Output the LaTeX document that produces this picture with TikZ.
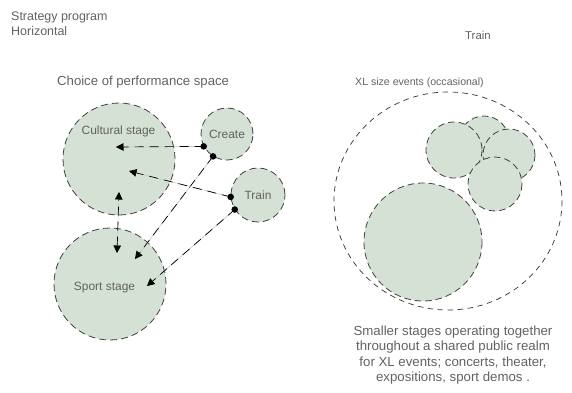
\documentclass[tikz,border=0pt]{standalone}
\usepackage{fontspec}
\setmainfont{Liberation Sans}
\usetikzlibrary{arrows.meta}

\definecolor{stagegreen}{RGB}{213,225,212}
\definecolor{linkgreen}{RGB}{186,206,186}
\definecolor{txtgray}{RGB}{98,98,98}

\begin{document}
\begin{tikzpicture}[x=1bp, y=-1bp,
  every node/.style={inner sep=0pt, text=txtgray, font=\fontsize{12}{14}\selectfont},
  hdr/.style={font=\fontsize{12.5}{14}\selectfont},
  stage/.style={circle, fill=stagegreen, draw=black!75, line width=0.8bp, dash pattern=on 7bp off 4bp},
  edge/.style={fill=stagegreen, draw=black!75, line width=0.8bp, dash pattern=on 6.5bp off 4bp},
  ring/.style={draw=black!80, line width=0.7bp, dash pattern=on 5.5bp off 4.5bp},
  link/.style={black, line width=0.7bp, dash pattern=on 9bp off 6bp,
    preaction={draw=linkgreen, solid, line width=0.6bp},
    -{Triangle[length=7.5bp, width=7.5bp]}},
  vlink/.style={link, {Triangle[length=7.5bp, width=7.5bp]}-{Triangle[length=7.5bp, width=7.5bp]}},
  dot/.style={black}]
  \useasboundingbox (0,0) rectangle (572,392);

  % headings
  \node[hdr, anchor=base west] (strat) at (11,20.5) {Strategy program};
  \node[hdr, anchor=base west] (horiz) at (11,35.5) {Horizontal};
  \node[anchor=base west, font=\fontsize{11.4}{13}\selectfont] (trainhdr) at (465,39) {Train};
  \node[anchor=base west, font=\fontsize{13.2}{15}\selectfont] (choice) at (57,85) {Choice of performance space};
  \node[anchor=base west, font=\fontsize{10.6}{13}\selectfont] (xlhdr) at (355,85) {XL size events (occasional)};

  % left: performance spaces
  \node[stage, minimum size=112bp] (cult) at (119,159) {};
  \node[anchor=base] (cultlbl) at (118.5,134) {Cultural stage};
  \node[stage, minimum size=112bp] (sport) at (110,284) {};
  \node[anchor=base] (sportlbl) at (104.5,290.5) {Sport stage};
  \node[stage, minimum size=52bp] (create) at (227,134) {Create};
  \node[stage, minimum size=54bp] (train) at (258,195) {Train};

  % arrow ends inside the two big stages
  \coordinate (cultA) at (116,147);
  \coordinate (cultB) at (129,171);
  \coordinate (cultC) at (119,192);
  \coordinate (sportA) at (135,259);
  \coordinate (sportB) at (147,286);
  \coordinate (sportC) at (117,253);

  \draw[link] (create.208) -- (cultA);
  \draw[link] (create.238) -- (sportA);
  \draw[link] (train.184) -- (cultB);
  \draw[link] (train.212) -- (sportB);
  \draw[vlink] (sportC) -- (cultC);
  \foreach \p in {create.208, create.238, train.184, train.212} {
     \fill[dot] (\p) circle (3.3);
  }

  % right: XL events, smaller stages joined together
  \draw[ring] (448,201) ellipse [x radius=114, y radius=109];
  % back to front: big stage, top, left, right, bottom
  \foreach \cx/\cy/\r in {423/242/59, 484/141/25, 454/150/28, 509/155/26, 495/184/27} {
     \filldraw[edge] (\cx,\cy) circle (\r);
  }
  \node[align=center, font=\fontsize{13.3}{15.6}\selectfont] (xlnote) at (453,355)
    {Smaller stages operating together\\throughout a shared public realm\\for XL events; concerts, theater,\\expositions, sport demos .};
\end{tikzpicture}
\end{document}
